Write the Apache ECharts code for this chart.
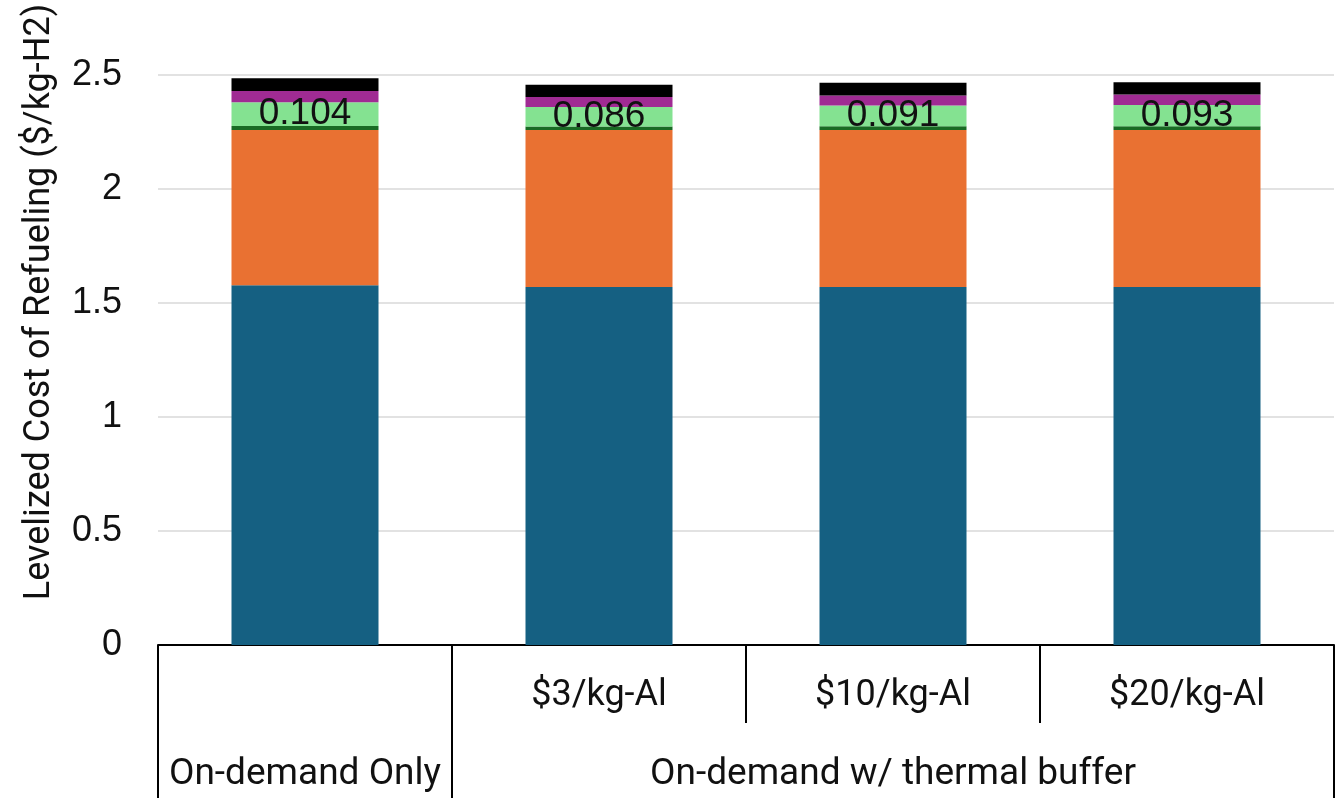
<!DOCTYPE html>
<html>
<head>
<meta charset="utf-8">
<script src="https://cdn.jsdelivr.net/npm/echarts@6/dist/echarts.min.js"></script>
<style>
  html, body { margin: 0; padding: 0; background: #fff; }
  #chart { width: 1342px; height: 798px; }
</style>
</head>
<body>
<div id="chart"></div>
<script>
// Scenario labels: upper row (per bar) and lower row (scenario groups)
const categories = ['', '$3/kg-Al', '$10/kg-Al', '$20/kg-Al'];
const groupNames = ['On-demand Only', 'On-demand w/ thermal buffer'];
const groupCenters = [0.5, 2.5];      // positions on the 0..4 group scale
const groupBounds = [0, 1, 4];        // group separators on the 0..4 group scale
const yTicks = [0, 0.5, 1, 1.5, 2, 2.5];

// Stacked cost components ($/kg-H2), bottom to top
const compBlue      = [1.578, 1.570, 1.570, 1.570];
const compOrange    = [0.681, 0.689, 0.689, 0.689];
const compDarkGreen = [0.017, 0.015, 0.016, 0.016];
const compLightGreen= [0.104, 0.086, 0.091, 0.093];
const compPurple    = [0.050, 0.044, 0.044, 0.047];
const compBlack     = [0.056, 0.053, 0.056, 0.053];

const chart = echarts.init(document.getElementById('chart'), null, { renderer: 'canvas' });

function seg(name, data, color, withLabel) {
  return {
    name: name,
    type: 'bar',
    stack: 'cost',
    xAxisIndex: 0,
    barWidth: '50%',
    data: data,
    itemStyle: { color: color },
    label: withLabel ? {
      show: true,
      position: 'inside',
      formatter: p => p.value.toFixed(3),
      fontFamily: '"Liberation Sans", Arial, sans-serif',
      fontSize: 37,
      color: '#111'
    } : { show: false }
  };
}

chart.setOption({
  animation: false,
  grid: { left: 158, right: 8, top: 75, bottom: 153, containLabel: false },
  xAxis: [
    {
      type: 'category',
      data: categories,
      position: 'bottom',
      offset: 0,
      axisLine: { show: true, lineStyle: { color: '#000', width: 2 } },
      axisTick: { show: true, alignWithLabel: false, length: 78, lineStyle: { color: '#000', width: 2 } },
      axisLabel: {
        margin: 33, fontFamily: 'Roboto, sans-serif', fontSize: 36, color: '#111'
      },
      splitLine: { show: false }
    },
    {
      type: 'value',
      min: 0, max: 4,
      position: 'bottom',
      offset: 0,
      axisLine: { show: false },
      splitLine: { show: false },
      axisTick: { show: true, customValues: groupBounds, length: 153, lineStyle: { color: '#000', width: 2 } },
      axisLabel: {
        show: true,
        customValues: groupCenters,
        margin: 111,
        fontFamily: 'Roboto, sans-serif', fontSize: 37, color: '#111',
        formatter: v => groupNames[groupCenters.indexOf(v)] || ''
      }
    }
  ],
  yAxis: {
    type: 'value',
    min: yTicks[0],
    max: yTicks[yTicks.length - 1],
    interval: 0.5,
    axisLine: { show: false },
    axisTick: { show: false },
    splitLine: { show: true, lineStyle: { color: '#d9d9d9', width: 1.5 } },
    axisLabel: {
      margin: 36, fontFamily: '"Liberation Sans", Arial, sans-serif', fontSize: 36, color: '#111'
    },
    name: 'Levelized Cost of Refueling ($/kg-H2)',
    nameLocation: 'middle',
    nameGap: 100,
    nameRotate: 90,
    nameTextStyle: {
      fontFamily: '"Liberation Sans Narrow", "Roboto", sans-serif',
      fontSize: 36,
      color: '#111',
      padding: [0, 0, 0, 116]
    }
  },
  series: [
    seg('Component 1', compBlue, '#156082', false),
    seg('Component 2', compOrange, '#e97132', false),
    seg('Component 3', compDarkGreen, '#196b24', false),
    seg('Component 4', compLightGreen, '#84e291', true),
    seg('Component 5', compPurple, '#a02b93', false),
    seg('Component 6', compBlack, '#000000', false)
  ]
});
</script>
</body>
</html>
